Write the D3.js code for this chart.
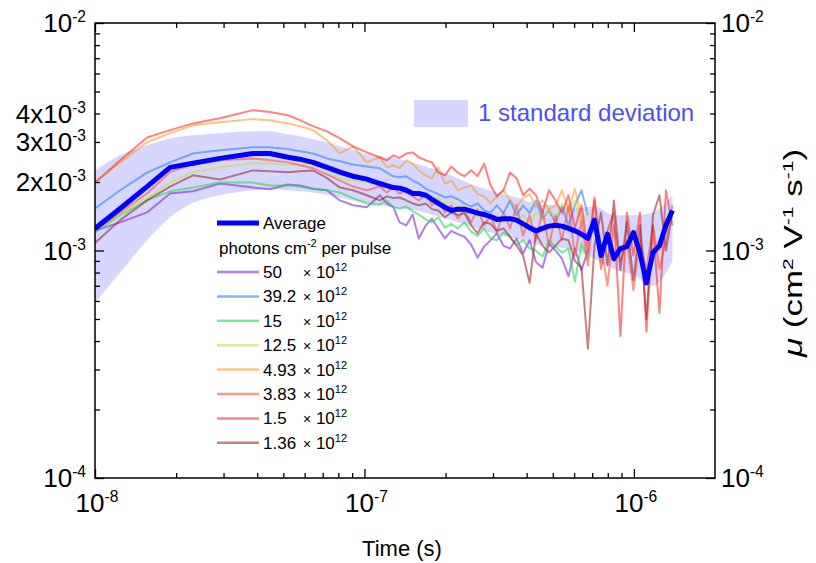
<!DOCTYPE html>
<html>
<head>
<meta charset="utf-8">
<script src="https://cdn.jsdelivr.net/npm/d3@7"></script>
<style>
  body { margin: 0; background: #fff; }
  text { font-family: "Liberation Sans", Arial, sans-serif; fill: #000; }
</style>
</head>
<body>
<svg id="chart" width="816" height="563"></svg>
<script>
// Time points in ns
const timeNs = [10, 12.4, 15.6, 19.0, 23.1, 29.1, 38.6, 44.6, 52.0, 57.6, 64.4, 72.6, 81.1, 90.7, 102,
  114, 121, 128, 135, 143, 151, 159, 169, 178, 188, 199, 210, 222, 235, 249, 263, 278, 294, 310, 328,
  347, 367, 388, 410, 433, 458, 484, 512, 541, 572, 604, 639, 675, 714, 755, 798, 843, 891, 942, 996,
  1053, 1113, 1177, 1244, 1315, 1390];

// Mobility in units of 1e-3 cm^2 V^-1 s^-1, one array per fluence
const mu50 = [1.22, 1.33, 1.47, 1.78, 1.82, 1.97, 1.89, 1.86, 1.95, 1.93, 1.87, 1.84, 1.66, 1.58, 1.55,
  1.75, 1.61, 1.55, 1.33, 1.29, 1.44, 1.13, 1.29, 1.38, 1.25,
  1.13, 1.22, 1.18, 1.15, 1.06, 0.93, 1.04, 1.11, 1.19, 1.05,
  1.02, 1.13, 0.97, 1.11, 0.89, 0.84, 1.07, 1.00, 0.92, 0.77,
  1.02, 0.82, 1.00, null, null, null, null, null, null, null, null, null, null, null, null, null];
const mu39 = [1.53, 1.84, 2.20, 2.44, 2.67, 2.76, 2.84, 2.84, 2.79, 2.73, 2.67, 2.54, 2.47, 2.39, 2.34,
  2.30, 2.20, 2.12, 2.10, 2.12, 2.03, 1.97, 1.87, 1.82, 1.77,
  1.71, 1.73, 1.68, 1.61, 1.56, 1.61, 1.50, 1.47, 1.58, 1.46,
  1.66, 1.43, 1.58, 1.46, 1.66, 1.38, 1.50, 1.33, 1.56, 1.29,
  1.58, 1.84, 1.43, null, null, null, null, null, null, null, null, null, null, null, null, null];
const mu15 = [1.20, 1.43, 1.66, 1.82, 1.89, 1.99, 1.99, 1.93, 1.93, 1.91, 1.87, 1.84, 1.80, 1.70, 1.61,
  1.59, 1.66, 1.55, 1.53, 1.56, 1.49, 1.44, 1.37, 1.33, 1.40,
  1.26, 1.31, 1.25, 1.33, 1.21, 1.16, 1.25, 1.13, 1.11, 1.20,
  1.14, 1.06, 1.11, 1.02, 1.00, 0.94, 1.11, 1.04, 0.98, 1.02,
  0.73, 1.07, 0.92, null, null, null, null, null, null, null, null, null, null, null, null, null];
const mu12p5 = [1.22, 1.45, 1.70, 1.99, 2.21, 2.32, 2.42, 2.42, 2.37, 2.37, 2.42, 2.25, 2.08, 2.03, 1.99,
  1.97, 1.91, 1.93, 1.87, 1.84, 1.84, 1.77, 1.73, 1.68, 1.70,
  1.61, 1.64, 1.56, 1.58, 1.47, 1.41, 1.46, 1.37, 1.43, 1.33,
  1.38, 1.33, 1.44, 1.30, 1.47, 1.36, 1.52, 1.38, 1.61, 1.47,
  1.66, 1.29, 1.50, null, null, null, null, null, null, null, null, null, null, null, null, null];
const mu4p93 = [1.99, 2.44, 2.99, 3.28, 3.55, 3.66, 3.78, 3.74, 3.62, 3.52, 3.38, 3.05, 2.67, 2.87, 2.44,
  2.57, 2.32, 2.37, 2.30, 2.49, 2.41, 2.25, 2.14, 2.08, 2.32,
  1.97, 2.03, 1.84, 1.89, 1.93, 1.77, 1.73, 1.61, 1.73, 1.84,
  1.66, 1.55, 1.70, 1.77, 1.55, 1.66, 1.52, 1.58, 1.84, 1.50,
  1.87, 1.38, null, null, null, null, null, null, null, null, null, null, null, null, null, null];
const mu3p83 = [1.22, 1.47, 1.78, 2.21, 2.39, 2.49, 2.54, 2.49, 2.44, 2.37, 2.30, 2.16, 2.03, 1.91, 1.84,
  1.91, 1.80, 1.89, 1.78, 1.84, 1.73, 1.66, 1.77, 1.58, 1.66,
  1.47, 1.58, 1.38, 1.50, 1.33, 1.52, 1.29, 1.43, 1.20, 1.47,
  1.25, 1.58, 1.16, 1.43, 1.11, 1.50, 1.05, 1.43, 1.11, 1.58,
  0.95, 1.36, 0.86, 1.66, 1.05, 0.70, 1.29, 0.90, 1.11, 0.67,
  1.13, 0.82, 1.29, 0.83, 1.11, 1.58];
const mu1p5 = [1.99, 2.49, 3.14, 3.38, 3.62, 3.81, 4.14, 4.06, 3.93, 3.74, 3.52, 3.34, 3.11, 2.87, 2.70,
  2.57, 2.49, 2.62, 2.55, 2.67, 2.70, 2.57, 2.49, 2.44, 2.20,
  2.14, 2.34, 2.20, 2.12, 2.25, 2.12, 2.41, 1.93, 1.73, 1.84,
  2.20, 2.08, 1.75, 1.87, 1.75, 1.47, 1.84, 1.66, 1.46, 1.75,
  1.25, 1.58, 1.00, 1.71, 0.83, 1.22, 1.47, 0.42, 1.47, 0.95,
  1.47, 0.44, 1.29, 0.53, 1.84, 1.29];
const mu1p36 = [1.08, 1.36, 1.66, 1.91, 2.14, 2.05, 2.25, 2.23, 2.21, 2.23, 2.25, 2.08, 1.89, 1.84, 1.75,
  1.66, 1.73, 1.70, 1.71, 1.66, 1.61, 1.58, 1.61, 1.52, 1.50,
  1.40, 1.47, 1.43, 1.46, 1.29, 1.19, 1.33, 1.31, 1.22, 1.25,
  1.15, 1.05, 0.95, 0.72, 1.19, 1.05, 0.98, 1.05, 1.13, 1.11,
  0.90, 0.84, 0.37, 1.05, 1.47, 0.86, 1.66, 0.82, 1.33, 0.74,
  1.29, 0.50, 1.43, 1.75, 1.00, 1.47];

// Average over all fluences
const muAverage = [1.25, 1.53, 1.91, 2.32, 2.42, 2.54, 2.67, 2.67, 2.57, 2.52, 2.44, 2.32, 2.21, 2.12, 2.06,
  1.97, 1.93, 1.89, 1.88, 1.84, 1.78, 1.78, 1.75, 1.68, 1.61,
  1.55, 1.50, 1.52, 1.52, 1.49, 1.46, 1.44, 1.41, 1.37, 1.38,
  1.38, 1.36, 1.31, 1.26, 1.22, 1.25, 1.28, 1.29, 1.28, 1.25,
  1.22, 1.18, 1.13, 1.36, 0.95, 1.18, 0.92, 1.02, 1.04, 1.20,
  0.98, 0.72, 0.98, 1.05, 1.29, 1.50];

// One standard deviation envelope
const bandTimeNs = [10, 12.4, 15.6, 19.0, 23.1, 29.1, 38.6, 44.6, 52.0, 57.6, 64.4, 72.6, 81.1, 90.7, 102,
  114, 135, 159, 188, 222, 263, 310, 367, 433, 512, 604, 714, 843, 996, 1177, 1390];
const bandHigh = [2.25, 2.62, 2.90, 3.11, 3.21, 3.28, 3.34, 3.34, 3.24, 3.18, 3.08, 2.99, 2.87, 2.76, 2.65,
  2.58, 2.52, 2.39, 2.25, 2.08, 1.91, 1.80, 1.71, 1.61, 1.58, 1.53, 1.56, 1.43, 1.43, 1.47, 1.75];
const bandLow = [0.59, 0.80, 1.11, 1.40, 1.62, 1.75, 1.84, 1.86, 1.84, 1.82, 1.80, 1.76, 1.71, 1.66, 1.61,
  1.58, 1.53, 1.49, 1.41, 1.33, 1.25, 1.18, 1.13, 1.06, 1.04, 1.00, 0.92, 0.83, 0.78, 0.70, 0.90];

const fluenceLabels = ["50", "39.2", "15", "12.5", "4.93", "3.83", "1.5", "1.36"];
const fluenceValues = [mu50, mu39, mu15, mu12p5, mu4p93, mu3p83, mu1p5, mu1p36];
const fluenceColors = ["#8226d5", "#2f82f7", "#1ede50", "#cdde3f", "#ff9b2f", "#ff503f", "#ff2f2f", "#9b2f2f"];

const xMajor = [1e-8, 1e-7, 1e-6];
const yMajor = [1e-4, 1e-3, 1e-2];

// ---------------------------------------------------------------
(function draw() {
const svg = d3.select("#chart");
const pLeft = 95, pRight = 715, pTop = 23, pBottom = 478;

const x = d3.scaleLog().domain([1e-8, 2e-6]).range([pLeft, pRight]);
const y = d3.scaleLog().domain([1e-4, 1e-2]).range([pBottom, pTop]);

svg.append("defs").append("clipPath").attr("id", "plotClip")
  .append("rect").attr("x", pLeft).attr("y", pTop).attr("width", pRight - pLeft).attr("height", pBottom - pTop);

const plot = svg.append("g").attr("clip-path", "url(#plotClip)");

// standard deviation band
const bandData = bandTimeNs.map((t, i) => ({ t: t * 1e-9, hi: bandHigh[i] * 1e-3, lo: bandLow[i] * 1e-3 }));
plot.append("path")
  .datum(bandData)
  .attr("fill", "#0000ff")
  .attr("fill-opacity", 0.16)
  .attr("d", d3.area().curve(d3.curveMonotoneX)
    .x(d => x(d.t)).y0(d => y(d.lo)).y1(d => y(d.hi)));

const line = d3.line()
  .defined(d => d[1] != null)
  .x(d => x(d[0] * 1e-9))
  .y(d => y(d[1] * 1e-3));

fluenceValues.forEach((vals, i) => {
  plot.append("path")
    .datum(timeNs.map((t, j) => [t, vals[j]]))
    .attr("fill", "none")
    .attr("stroke", fluenceColors[i])
    .attr("stroke-opacity", 0.6)
    .attr("stroke-width", 2)
    .attr("stroke-linejoin", "round")
    .attr("d", line);
});

plot.append("path")
  .datum(timeNs.map((t, j) => [t, muAverage[j]]))
  .attr("fill", "none")
  .attr("stroke", "#0000ff")
  .attr("stroke-width", 5)
  .attr("stroke-linejoin", "round")
  .attr("d", line);

// ---------------------------------------------------------------
// axes: inward ticks on all four sides
const xMinor = [];
[1e-8, 1e-7, 1e-6].forEach(d => { for (let k = 2; k <= 9; k++) if (k * d < 2e-6) xMinor.push(k * d); });
const yMinor = [];
[1e-4, 1e-3].forEach(d => { for (let k = 2; k <= 9; k++) yMinor.push(k * d); });

function tickAxis(axisFn, scale, pos, values, size) {
  const g = svg.append("g").attr("transform", pos)
    .call(axisFn(scale).tickValues(values).tickSize(size).tickFormat(""));
  g.select(".domain").remove();
  g.selectAll(".tick line").attr("stroke", "#000").attr("stroke-width", 1.3);
}
tickAxis(d3.axisBottom, x, `translate(0,${pBottom})`, xMajor, -9);
tickAxis(d3.axisBottom, x, `translate(0,${pBottom})`, xMinor, -5);
tickAxis(d3.axisTop, x, `translate(0,${pTop})`, xMajor, -9);
tickAxis(d3.axisTop, x, `translate(0,${pTop})`, xMinor, -5);
tickAxis(d3.axisLeft, y, `translate(${pLeft},0)`, yMajor, -9);
tickAxis(d3.axisLeft, y, `translate(${pLeft},0)`, yMinor, -5);
tickAxis(d3.axisRight, y, `translate(${pRight},0)`, yMajor, -9);
tickAxis(d3.axisRight, y, `translate(${pRight},0)`, yMinor, -5);

svg.append("rect")
  .attr("x", pLeft).attr("y", pTop).attr("width", pRight - pLeft).attr("height", pBottom - pTop)
  .attr("fill", "none").attr("stroke", "#000").attr("stroke-width", 1.5);

// power-of-ten labels with superscript exponent
function powLabel(px, py, lead, exp, anchor, size) {
  const t = svg.append("text").attr("x", px).attr("y", py)
    .attr("text-anchor", anchor).attr("font-size", size);
  t.append("tspan").text(lead);
  t.append("tspan").attr("dy", -size * 0.38).attr("font-size", size * 0.6).text(exp);
  return t;
}

const xTickText = [["10", "-8"], ["10", "-7"], ["10", "-6"]];
xMajor.forEach((v, i) => powLabel(x(v) + 2, 512, xTickText[i][0], xTickText[i][1], "middle", 26));

const yLeftTicks = [1e-2, 4e-3, 3e-3, 2e-3, 1e-3, 1e-4];
const yLeftText = [["10", "-2"], ["4x10", "-3"], ["3x10", "-3"], ["2x10", "-3"], ["10", "-3"], ["10", "-4"]];
yLeftTicks.forEach((v, i) => powLabel(86, y(v) + 9, yLeftText[i][0], yLeftText[i][1], "end", 26));

const yRightText = [["10", "-4"], ["10", "-3"], ["10", "-2"]];
yMajor.forEach((v, i) => powLabel(721, y(v) + 9, yRightText[i][0], yRightText[i][1], "start", 26));

svg.append("text").attr("x", 402).attr("y", 556).attr("text-anchor", "middle")
  .attr("font-size", 22).text("Time (s)");

// right axis title: mu (cm^2 V^-1 s^-1)
const yt = svg.append("text")
  .attr("transform", "translate(802,253) rotate(-90) scale(1.4,1)")
  .attr("text-anchor", "middle").attr("font-size", 25);
const titleParts = [["μ", 0, "italic"], [" (cm", 0], ["2", 1], [" V", -1], ["-1", 1], [" s", -1], ["-1", 1], [")", -1]];
titleParts.forEach(p => {
  const s = yt.append("tspan").text(p[0]);
  if (p[2]) s.attr("font-style", "italic");
  if (p[1] === 1) s.attr("dy", -9).attr("font-size", 15);
  if (p[1] === -1) s.attr("dy", 9);
});

// ---------------------------------------------------------------
// legends
svg.append("rect").attr("x", 414).attr("y", 100).attr("width", 54).attr("height", 27)
  .attr("fill", "#0000ff").attr("fill-opacity", 0.16);
svg.append("text").attr("x", 478).attr("y", 121).attr("font-size", 24)
  .style("fill", "#4d4dff").text("1 standard deviation");

const legX0 = 217, legX1 = 259, legText = 263, rowStep = 24.4;
svg.append("line").attr("x1", legX0).attr("x2", legX1).attr("y1", 223).attr("y2", 223)
  .attr("stroke", "#0000ff").attr("stroke-width", 5);
svg.append("text").attr("x", legText).attr("y", 229).attr("font-size", 17).text("Average");

const hdr = svg.append("text").attr("x", 219).attr("y", 254).attr("font-size", 17);
hdr.append("tspan").text("photons cm");
hdr.append("tspan").attr("dy", -7).attr("font-size", 11).text("-2");
hdr.append("tspan").attr("dy", 7).text(" per pulse");

fluenceLabels.forEach((lab, i) => {
  const cy = 272 + i * rowStep;
  svg.append("line").attr("x1", legX0).attr("x2", legX1).attr("y1", cy).attr("y2", cy)
    .attr("stroke", fluenceColors[i]).attr("stroke-opacity", 0.6).attr("stroke-width", 2.5);
  svg.append("text").attr("x", legText).attr("y", cy + 6).attr("font-size", 17).text(lab);
  const t = svg.append("text").attr("x", 303).attr("y", cy + 6).attr("font-size", 17);
  t.append("tspan").attr("font-size", 14).text("×");
  t.append("tspan").text(" 10");
  t.append("tspan").attr("dy", -7).attr("font-size", 11).text("12");
});
})();
</script>
</body>
</html>
